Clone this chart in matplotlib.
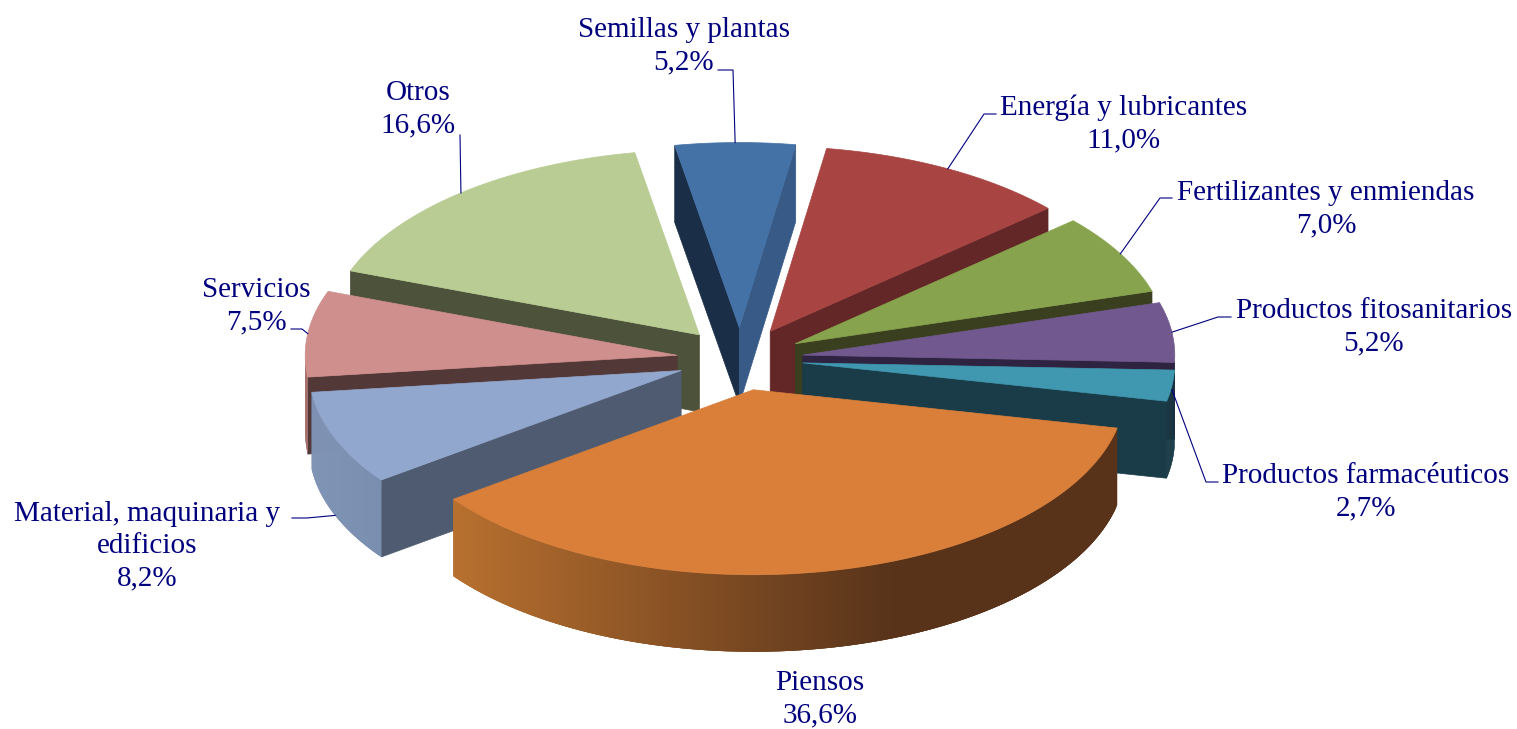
import numpy as np
import matplotlib
matplotlib.use('Agg')
import matplotlib.pyplot as plt

# Pie data, clockwise from the top
categories = ['Semillas y plantas', 'Energía y lubricantes', 'Fertilizantes y enmiendas',
              'Productos fitosanitarios', 'Productos farmacéuticos', 'Piensos',
              'Material, maquinaria y\nedificios', 'Servicios', 'Otros']
values = [5.2, 11.0, 7.0, 5.2, 2.7, 36.6, 8.2, 7.5, 16.6]

top_colors = ['#4472a6', '#a84442', '#87a34d', '#715990', '#3f98b0',
              '#d97f3a', '#92a7ce', '#cf8f8d', '#b8cc93']
start_face = ['#1a2e47', '#622726', '#3a401f', '#2e2340', '#1a3c48',
              '#5a3415', '#4e5b70', '#533838', '#4d523a']
end_face = ['#385a87', '#622726', '#3a401f', '#2e2340', '#1a3c48',
            '#5a3415', '#4e5b70', '#533838', '#4d523a']
# outer wall colour at the left and right end of each slice
wall_left = ['#385a87', '#622726', '#3a401f', '#2e2340', '#1a3c48',
             '#b8702f', '#8094b6', '#a56f6d', '#4d523a']
wall_right = ['#1a2e47', '#622726', '#3a401f', '#2e2340', '#1a3c48',
              '#58331a', '#7a8eb0', '#a56f6d', '#4d523a']

# label centres and leader lines (pixels)
label_pos = [(684, 46), (1124, 124), (1326, 209), (1374, 327), (1366, 492),
             (820, 699), (147, 546), (256, 306), (418, 109)]
leaders = [[(718, 70), (733, 70)], [(996, 114), (984, 114)], [(1172, 198), (1160, 198)],
           [(1231, 317), (1218, 317)], [(1218, 482), (1206, 482)], None,
           [(292, 518), (307, 518)], [(291, 329), (302, 329)], [(460, 135)]]
leader_drop = [0, 0, 0, 0, 0.05, 0, 1, 0, 0]

CX, CY = 740, 359
RX, RY = 372, 185
EXPLODE = 0.17
START = -10.0
DEPTH = 77


def point(t, ox, oy):
    return ox + RX * np.sin(t), oy - RY * np.cos(t)


def mix(c1, c2, f):
    a = np.array(matplotlib.colors.to_rgb(c1))
    b = np.array(matplotlib.colors.to_rgb(c2))
    return a + (b - a) * f


fig = plt.figure(figsize=(15.17, 7.29), dpi=100)
ax = fig.add_axes([0, 0, 1, 1])
ax.set_xlim(0, 1517)
ax.set_ylim(729, 0)
ax.axis('off')

# slice angles from the values
edges = np.radians(START + np.cumsum([0] + values) * 3.6)
mids = (edges[:-1] + edges[1:]) / 2
order = np.argsort(-np.cos(mids))  # back to front
z = 0

for i in order:
    t0, t1, mid = edges[i], edges[i + 1], mids[i]
    ox = CX + EXPLODE * RX * np.sin(mid)
    oy = CY - EXPLODE * RY * np.cos(mid)

    # radial cut faces
    if np.sin(t0) < 0:
        px, py = point(t0, ox, oy)
        ax.fill([ox, px, px, ox], [oy, py, py + DEPTH, oy + DEPTH], color=start_face[i], lw=0.5, zorder=z)
    if np.sin(t1) > 0:
        px, py = point(t1, ox, oy)
        ax.fill([ox, px, px, ox], [oy, py, py + DEPTH, oy + DEPTH], color=end_face[i], lw=0.5, zorder=z)
    z += 1

    # outer wall in thin strips so it can shade, each one runs under the next to hide seams
    ts = np.linspace(t0, t1, 200)
    xs, ys = point(ts, ox, oy)
    for k in range(len(ts) - 1):
        if np.cos((ts[k] + ts[k + 1]) / 2) < 0:
            f = ((xs[k] + xs[k + 1]) / 2 - xs.min()) / (xs.max() - xs.min())
            if i == 5:
                f = min(1, f / 0.66)  # piensos stops darkening past this point
            j = min(k + 3, len(ts) - 1)
            ax.fill(np.r_[xs[k:j + 1], xs[k:j + 1][::-1]],
                    np.r_[ys[k:j + 1], ys[k:j + 1][::-1] + DEPTH],
                    color=mix(wall_left[i], wall_right[i], f), lw=0, zorder=z)
    z += 1

    # top surface
    ax.fill(np.r_[ox, xs], np.r_[oy, ys], color=top_colors[i], lw=0.5, zorder=z)
    z += 1

# labels and leader lines
for i, name in enumerate(categories):
    pct = f'{values[i]:.1f}%'.replace('.', ',')
    ax.text(label_pos[i][0], label_pos[i][1], f'{name}\n{pct}', ha='center', va='center',
            family='Liberation Serif', fontsize=21, color='#00007f', linespacing=1.3, zorder=z + 1)
    if leaders[i] is not None:
        ox = CX + EXPLODE * RX * np.sin(mids[i])
        oy = CY - EXPLODE * RY * np.cos(mids[i])
        ex, ey = point(mids[i], ox, oy)
        pts = leaders[i] + [(ex, ey + leader_drop[i] * DEPTH)]
        ax.plot([p[0] for p in pts], [p[1] for p in pts], color='#00007f', lw=0.8, zorder=z + 1)

fig.savefig('out.png', dpi=100, facecolor='white')
